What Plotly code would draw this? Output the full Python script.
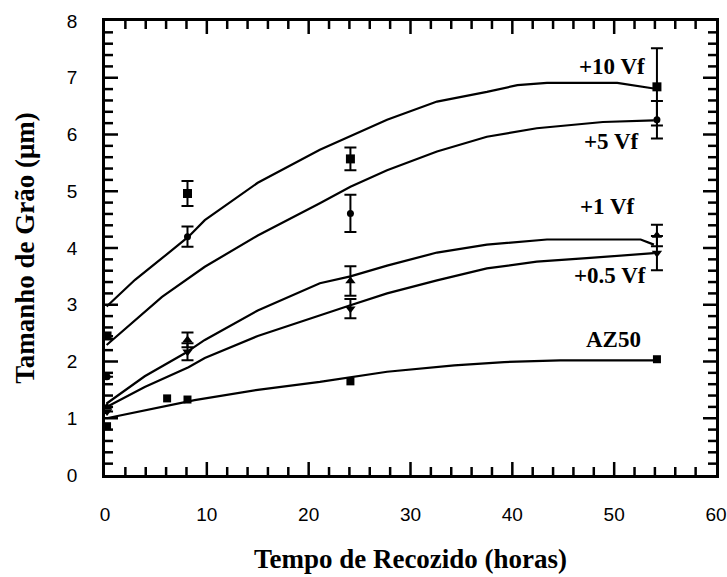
import plotly.graph_objects as go

# ---- measured data (annealing time in hours, grain size in µm) ----
t_10 = [0.2, 8.1, 24.1, 54.2]
d_10 = [2.45, 4.96, 5.57, 6.84]
e_10 = [0.0, 0.22, 0.2, 0.68]

t_5 = [0.2, 8.1, 24.1, 54.2]
d_5 = [1.73, 4.20, 4.61, 6.26]
e_5 = [0.0, 0.18, 0.33, 0.33]

t_1 = [0.2, 8.1, 24.1, 54.2]
d_1 = [1.20, 2.38, 3.42, 4.22]
e_1 = [0.0, 0.13, 0.26, 0.19]

t_05 = [0.2, 8.1, 24.1, 54.2]
d_05 = [1.12, 2.17, 2.93, 3.91]
e_05 = [0.0, 0.15, 0.17, 0.30]

t_az = [0.2, 6.1, 8.1, 24.1, 54.2]
d_az = [0.86, 1.35, 1.33, 1.65, 2.04]

# ---- fitted curves ----
ct_10 = [0.16, 2.95, 5.6, 8.2, 9.8, 15.0, 21.1, 27.7, 32.6, 37.5, 40.5, 43.4, 50.3, 53.9]
cd_10 = [2.97, 3.44, 3.82, 4.20, 4.49, 5.15, 5.73, 6.26, 6.58, 6.75, 6.87, 6.91, 6.91, 6.81]

ct_5 = [0.16, 2.95, 5.6, 9.8, 15.0, 21.1, 24.1, 27.7, 32.6, 37.5, 42.4, 48.9, 53.9]
cd_5 = [2.29, 2.73, 3.14, 3.67, 4.22, 4.79, 5.08, 5.37, 5.70, 5.96, 6.11, 6.22, 6.25]

ct_1 = [0.16, 3.9, 7.8, 9.8, 15.0, 21.1, 24.1, 27.7, 32.6, 37.5, 43.4, 52.6, 53.9]
cd_1 = [1.26, 1.74, 2.14, 2.38, 2.90, 3.38, 3.50, 3.69, 3.92, 4.06, 4.15, 4.15, 4.06]

ct_05 = [0.16, 3.9, 8.2, 9.8, 15.0, 21.1, 24.1, 27.7, 32.6, 37.5, 42.4, 47.3, 52.3, 53.9]
cd_05 = [1.20, 1.55, 1.90, 2.06, 2.45, 2.82, 2.99, 3.20, 3.43, 3.64, 3.76, 3.82, 3.88, 3.91]

ct_az = [0.16, 3.9, 8.8, 15.0, 21.1, 27.7, 34.3, 39.2, 44.7, 53.9]
cd_az = [1.00, 1.14, 1.32, 1.50, 1.64, 1.82, 1.93, 1.99, 2.02, 2.02]

labels = ["+10 Vf", "+5 Vf", "+1 Vf", "+0.5 Vf", "AZ50"]
label_x = [53.2, 52.6, 52.2, 53.3, 52.8]
label_y = [7.19, 5.87, 4.73, 3.52, 2.38]

x_range = [0, 60]
y_range = [0, 8]
x_major, x_minor = 10, 2
y_major, y_minor = 1, 0.2

W, H = 727, 577
M = dict(l=105, r=11, t=21, b=102)

fig = go.Figure()

curves = [(ct_10, cd_10), (ct_5, cd_5), (ct_1, cd_1), (ct_05, cd_05), (ct_az, cd_az)]
for cx, cy in curves:
    fig.add_trace(go.Scatter(x=cx, y=cy, mode="lines",
                             line=dict(color="black", width=2.2),
                             showlegend=False, hoverinfo="skip"))

err_style = dict(type="data", color="black", thickness=2, width=6)
series = [
    (t_10, d_10, e_10, "square", 9),
    (t_5, d_5, e_5, "circle", 7),
    (t_1, d_1, e_1, "triangle-up", 9),
    (t_05, d_05, e_05, "triangle-down", 9),
]
for tx, dy, ey, sym, sz in series:
    fig.add_trace(go.Scatter(x=tx, y=dy, mode="markers",
                             marker=dict(symbol=sym, size=sz, color="black"),
                             error_y=dict(array=ey, **err_style),
                             showlegend=False))
fig.add_trace(go.Scatter(x=t_az, y=d_az, mode="markers",
                         marker=dict(symbol="square", size=8, color="black"),
                         showlegend=False))

# ---- inward tick marks on all four sides: one line segment per tick ----
MAJ_PX, MIN_PX = 13, 8
x_per_px = (x_range[1] - x_range[0]) / (W - M["l"] - M["r"])
y_per_px = (y_range[1] - y_range[0]) / (H - M["t"] - M["b"])
n_x = int(round((x_range[1] - x_range[0]) / x_minor))
for i in range(1, n_x):
    xv = x_range[0] + i * x_minor
    ln = (MAJ_PX if abs(xv / x_major - round(xv / x_major)) < 1e-6 else MIN_PX) * y_per_px
    for y_a, y_b in ((y_range[0], y_range[0] + ln), (y_range[1], y_range[1] - ln)):
        fig.add_trace(go.Scatter(x=[xv, xv], y=[y_a, y_b], mode="lines",
                                 line=dict(color="black", width=2.5),
                                 showlegend=False, hoverinfo="skip", cliponaxis=False))
n_y = int(round((y_range[1] - y_range[0]) / y_minor))
for i in range(1, n_y):
    yv = y_range[0] + i * y_minor
    ln = (MAJ_PX if abs(yv / y_major - round(yv / y_major)) < 1e-6 else MIN_PX) * x_per_px
    for x_a, x_b in ((x_range[0], x_range[0] + ln), (x_range[1], x_range[1] - ln)):
        fig.add_trace(go.Scatter(x=[x_a, x_b], y=[yv, yv], mode="lines",
                                 line=dict(color="black", width=2.5),
                                 showlegend=False, hoverinfo="skip", cliponaxis=False))

for txt, lx, ly in zip(labels, label_x, label_y):
    fig.add_annotation(x=lx, y=ly, text="<b>%s</b>" % txt, showarrow=False,
                       xanchor="right", yanchor="middle",
                       font=dict(family="Liberation Serif", size=23, color="black"))

label_axis = dict(showline=True, linecolor="black", linewidth=2.5, mirror=True,
                  ticks="outside", tickcolor="rgba(0,0,0,0)", tickwidth=1,
                  showgrid=False, zeroline=False, automargin=False, tickmode="linear",
                  tickfont=dict(family="Liberation Sans", size=19, color="black"))

fig.update_layout(
    width=W, height=H, margin=M,
    plot_bgcolor="white", paper_bgcolor="white", showlegend=False,
    xaxis=dict(range=x_range, tick0=0, dtick=x_major, ticklen=20,
               title=dict(text="<b>Tempo de Recozido (horas)</b>", standoff=26,
                          font=dict(family="Liberation Serif", size=27, color="black")),
               **label_axis),
    yaxis=dict(range=y_range, tick0=0, dtick=y_major, ticklen=21,
               title=dict(text="<b>Tamanho de Grão (μm)</b>", standoff=25,
                          font=dict(family="Liberation Serif", size=27, color="black")),
               **label_axis),
)

fig.write_html("out.html", config={"displayModeBar": False},
               post_script="document.body.style.margin='0px';")
